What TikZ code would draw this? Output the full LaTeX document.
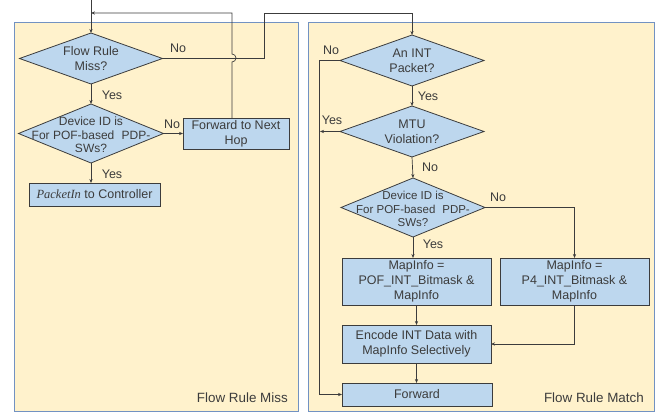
\documentclass[tikz,border=0pt]{standalone}
\usepackage{fontspec}
\setmainfont{Liberation Sans}
\newfontfamily\serifit{Liberation Serif}
\usetikzlibrary{shapes.geometric,arrows.meta}
\definecolor{panelfill}{HTML}{FFF2CC}
\definecolor{panelline}{HTML}{7292C2}
\definecolor{boxfill}{HTML}{BDD7EE}
\definecolor{ink}{HTML}{3C3C3C}
\begin{document}
\begin{tikzpicture}[x=1pt,y=-1pt,
  panel/.style={draw=panelline, fill=panelfill, line width=1pt},
  dia/.style={diamond, draw=ink, fill=boxfill, inner sep=0pt, outer sep=0pt, line width=0.8pt},
  box/.style={rectangle, draw=ink, fill=boxfill, line width=0.8pt, inner sep=0pt, outer sep=0pt,
    align=center, text=ink, font=\fontsize{12.5}{15}\selectfont},
  txt/.style={align=center, text=ink, inner sep=0pt, font=\fontsize{12.5}{15}\selectfont},
  smalltxt/.style={align=center, text=ink, inner sep=0pt, font=\fontsize{12}{13.5}\selectfont},
  lbl/.style={text=ink, inner sep=0pt, font=\fontsize{12.5}{15}\selectfont},
  title/.style={text=ink, inner sep=0pt, anchor=east, font=\fontsize{13.4}{16}\selectfont},
  flow/.style={draw=ink, line width=0.7pt, -{Stealth[length=4pt,width=3.2pt]}},
]
\useasboundingbox (0,0) rectangle (671,414);

% panels
\path[panel] (14,23) rectangle (298,411);
\path[panel] (308,23) rectangle (654,411);
\node[title] (tmiss) at (288,398) {Flow Rule Miss};
\node[title] (tmatch) at (644,398) {Flow Rule Match};

% ---- flow rule miss: nodes ----
\coordinate (entry) at (91,0);
\node[dia, minimum width=143pt, minimum height=51pt] (d1) at (91,58.5) {};
\node[txt] (d1t) at (d1) {Flow Rule\\Miss?};
\node[dia, minimum width=145pt, minimum height=59pt] (d2) at (91,133.5) {};
\node[smalltxt] (d2t) at (91,135) {Device ID is\\For POF-based\hspace{0.6em}PDP-\\SWs?};
\node[box, minimum width=106pt, minimum height=31pt] (fnh) at (236,133.5) {Forward to Next\\Hop};
\node[box, minimum width=131pt, minimum height=23pt] (pin) at (94.5,194.5) {{\serifit\itshape PacketIn} to Controller};

% ---- flow rule match: nodes ----
\node[dia, minimum width=144pt, minimum height=51pt] (d3) at (412,60.5) {};
\node[txt] (d3t) at (d3) {An INT\\Packet?};
\node[dia, minimum width=144pt, minimum height=51pt] (d4) at (412,131.5) {};
\node[txt] (d4t) at (d4) {MTU\\Violation?};
\node[dia, minimum width=144pt, minimum height=59pt] (d5) at (413,207.5) {};
\node[smalltxt, font=\fontsize{11.5}{13.5}\selectfont] (d5t) at (413,209) {Device ID is\\For POF-based\hspace{0.6em}PDP-\\SWs?};
\node[box, minimum width=149pt, minimum height=47pt] (mapl) at (416.5,281.5) {MapInfo =\\POF\_INT\_Bitmask \&\\MapInfo};
\node[box, minimum width=149pt, minimum height=47pt] (mapr) at (574.5,281.5) {MapInfo =\\P4\_INT\_Bitmask \&\\MapInfo};
\node[box, minimum width=149pt, minimum height=38pt] (enc) at (416.5,344) {Encode INT Data with\\MapInfo Selectively};
\node[box, minimum width=150pt, minimum height=23pt] (fwd) at (417,394.5) {Forward};

% ---- flow rule miss: connectors ----
\draw[flow] (entry) -- (d1.north);
\draw[flow] (d1.south) -- (d2.north);
\draw[flow] (d2.south) -- (d2.south |- pin.north);
\draw[flow] (d2.east) -- (fnh.west);
\coordinate (loop) at (91,13);
\draw[flow] ([xshift=-4pt]fnh.north) -- (232,62) arc (90:-90:4) -- (232,13) -- (loop);
\coordinate (c1) at (264,13);
\draw[flow] (d1.east) -| (c1) -| (d3.north);

\node[lbl] (l1) at (178,48) {No};
\node[lbl] (l2) at (112,95) {Yes};
\node[lbl] (l3) at (172,124) {No};
\node[lbl] (l4) at (112,174) {Yes};

% ---- flow rule match: connectors ----
\coordinate (c2) at (319,60.5);
\coordinate (c3) at (320,131.5);
\draw[flow] (d3.west) -- (c2) |- (fwd.west);
\draw[flow] (d4.west) -- (c3);
\draw[flow] (d3.south) -- (d4.north);
\draw[flow] (d4.south) -- (d5.north);
\draw[flow] (d5.east) -| (mapr.north);
\draw[flow] (d5.south) -- (d5.south |- mapl.north);
\draw[flow] (mapl.south) -- (enc.north);
\draw[flow] (mapr.south) |- (enc.east);
\draw[flow] (enc.south) -- (enc.south |- fwd.north);

\node[lbl] (l5) at (331,50) {No};
\node[lbl] (l6) at (428,96) {Yes};
\node[lbl] (l7) at (332,120) {Yes};
\node[lbl] (l8) at (430,167) {No};
\node[lbl] (l9) at (498,197) {No};
\node[lbl] (l10) at (433,244) {Yes};
\end{tikzpicture}
\end{document}
